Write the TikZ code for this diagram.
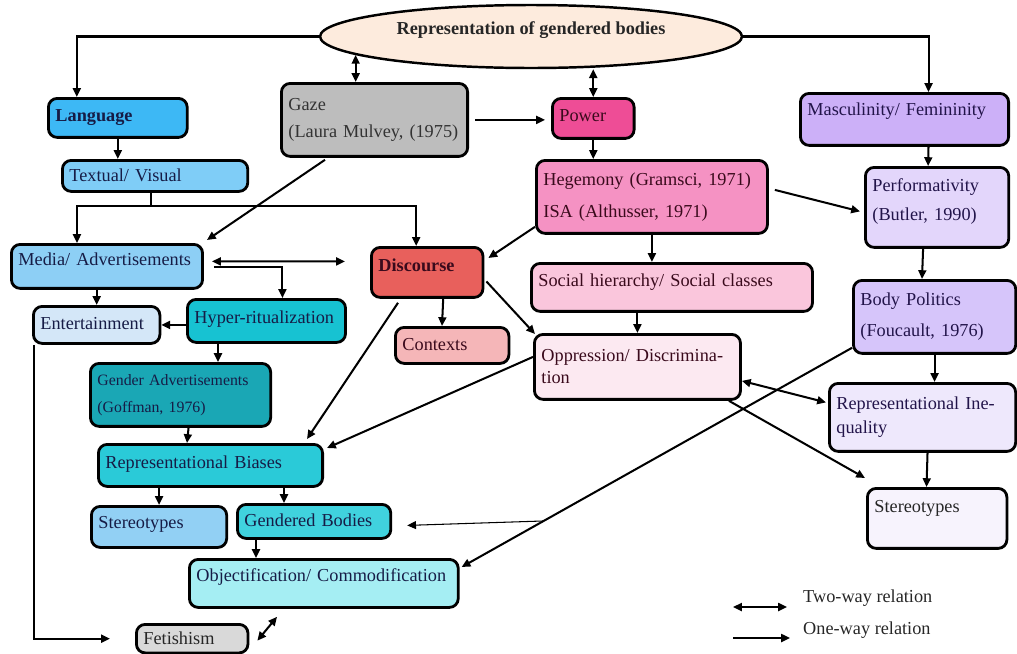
\documentclass[tikz,border=0pt]{standalone}
\usepackage{fontspec}
\setmainfont{Liberation Serif}
\newcommand{\boxfont}{\fontsize{10.4}{12.5}\selectfont}
\newcommand{\smallboxfont}{\fontsize{9}{11}\selectfont}
\usetikzlibrary{arrows.meta,positioning,shapes.geometric,calc}

\definecolor{navytxt}{HTML}{161C46}
\definecolor{maroontxt}{HTML}{3A0A1C}
\definecolor{violettxt}{HTML}{22144A}
\definecolor{repfill}{HTML}{FDEBDD}
\definecolor{langfill}{HTML}{3DB8F5}
\definecolor{textualfill}{HTML}{7FCDF7}
\definecolor{mediafill}{HTML}{8DCFF5}
\definecolor{entfill}{HTML}{D4E7F8}
\definecolor{hyperfill}{HTML}{17C2D2}
\definecolor{gafill}{HTML}{1AA7B5}
\definecolor{rbfill}{HTML}{2ACAD8}
\definecolor{sterfill}{HTML}{92D0F4}
\definecolor{gbfill}{HTML}{40D2DE}
\definecolor{objfill}{HTML}{A5EEF3}
\definecolor{fetfill}{HTML}{D9D9D9}
\definecolor{gazefill}{HTML}{BDBDBD}
\definecolor{powerfill}{HTML}{EE4D96}
\definecolor{hegfill}{HTML}{F592C3}
\definecolor{socfill}{HTML}{FAC6DC}
\definecolor{oppfill}{HTML}{FCE9F1}
\definecolor{discfill}{HTML}{E8605C}
\definecolor{ctxfill}{HTML}{F5B6B8}
\definecolor{mascfill}{HTML}{CCB0F8}
\definecolor{perffill}{HTML}{E3D6FB}
\definecolor{bpfill}{HTML}{D6C5FA}
\definecolor{rifill}{HTML}{EEE8FC}
\definecolor{sterbfill}{HTML}{F7F3FD}

\begin{document}
\begin{tikzpicture}[x=0.02cm,y=-0.02cm,>={Triangle[length=5pt,width=4.5pt]}]
				\tikzset{block/.style={draw,line width=1.6pt,rounded corners=5pt,anchor=north west,align=left,inner xsep=4pt,inner ysep=0pt,font=\boxfont,text=navytxt},
					oneline/.style={text height=7.5pt,text depth=#1},
					oneline/.default=0.7pt,
					link/.style={line width=1.15pt}}
				\useasboundingbox (0,0) rectangle (1017,653);
				% top
				\node [ellipse,draw,line width=1.4pt,fill=repfill,minimum width=8.44cm,minimum height=1.26cm,text depth=10pt,font=\boxfont\bfseries,text=black!85] (rep) at (531,36.5) {Representation of gendered bodies};
				\node [block, oneline=3.5pt, fill=langfill, text width=71pt, minimum height=0.78cm, font=\boxfont\bfseries] (lang) at (47,97) {Language};
				\node [block, fill=gazefill, text width=98pt, minimum height=1.46cm, text=black!80] (gaze) at (280,82) {Gaze\\[3.3pt](Laura Mulvey, (1975)};
				\node [block, oneline=4.1pt, fill=powerfill, text width=38.5pt, minimum height=0.8cm, text=maroontxt] (power) at (551,97) {Power};
				\node [block, oneline=12pt, fill=mascfill, text width=110.5pt, minimum height=1.04cm, text=violettxt] (masc) at (799,92) {Masculinity/ Femininity};
				% second row
				\node [block, oneline=1.3pt, fill=textualfill, text width=97.5pt, minimum height=0.62cm] (textual) at (61,159) {Textual/ Visual};
				\node [block, fill=hegfill, text width=123.5pt, minimum height=1.46cm, text=maroontxt] (heg) at (535,159) {Hegemony (Gramsci, 1971)\\[5.5pt]ISA (Althusser, 1971)};
				\node [block, fill=perffill, text width=73.6pt, minimum height=1.6cm, text height=7.5pt, text depth=26pt, text=violettxt] (perf) at (864,166) {Performativity\\[4.4pt](Butler, 1990)};
				% middle
				\node [block, oneline=8.6pt, fill=mediafill, text width=100.8pt, minimum height=0.88cm] (media) at (10,243) {Media/ Advertisements};
				\node [block, oneline=8.6pt, fill=discfill, text width=55.5pt, minimum height=1cm, font=\boxfont\bfseries, text=maroontxt] (disc) at (370,246) {Discourse};
				\node [block, oneline=8.6pt, fill=socfill, text width=152pt, minimum height=0.96cm, text=maroontxt] (soc) at (530,262) {Social hierarchy/ Social classes};
				\node [block, fill=bpfill, text width=84.4pt, minimum height=1.46cm, text=violettxt] (bp) at (852,279) {Body Politics\\[5pt](Foucault, 1976)};
				\node [block, oneline=2.4pt, fill=entfill, text width=64pt, minimum height=0.74cm] (ent) at (32,305) {Entertainment};
				\node [block, oneline=4.7pt, fill=hyperfill, text width=82pt, minimum height=0.86cm] (hyper) at (186,298) {Hyper-ritualization};
				\node [block, oneline=1.8pt, fill=ctxfill, text width=56.6pt, minimum height=0.72cm, text=maroontxt] (ctx) at (394,326) {Contexts};
				\node [block, fill=oppfill, text width=109.3pt, minimum height=1.3cm, text=maroontxt] (opp) at (533,333) {Oppression/ Discrimina-\\tion};
				\node [block, fill=gafill, text width=94.6pt, minimum height=1.26cm, font=\smallboxfont] (ga) at (89,362) {Gender Advertisements\\[4.3pt](Goffman, 1976)};
				\node [block, fill=rifill, text width=98pt, minimum height=1.36cm, text=violettxt] (ri) at (828,382) {Representational Ine-\\[1pt]quality};
				% bottom
				\node [block, oneline=4.1pt, fill=rbfill, text width=119.6pt, minimum height=0.84cm] (rb) at (97,443) {Representational Biases};
				\node [block, oneline=5.8pt, fill=sterfill, text width=69pt, minimum height=0.82cm] (ster1) at (90,505) {Stereotypes};
				\node [block, oneline=1.8pt, fill=gbfill, text width=79.3pt, minimum height=0.68cm] (gb) at (236,503) {Gendered Bodies};
				\node [block, oneline=14.3pt, fill=sterbfill, text width=71.4pt, minimum height=1.2cm, text=black!85] (ster2) at (866,487) {Stereotypes};
				\node [block, oneline=9.8pt, fill=objfill, text width=145pt, minimum height=0.96cm] (obj) at (188,558) {Objectification/ Commodification};
				\node [block, oneline, fill=fetfill, text width=55.5pt, minimum height=0.57cm, text=black!85] (fet) at (135,623) {Fetishism};
				% legend
				\node [anchor=west, font=\boxfont, text=black!85] (two) at (797,598) {Two-way relation};
				\node [anchor=west, font=\boxfont, text=black!85] (one) at (797,630) {One-way relation};
				\coordinate (twoa) at (733,607);
				\coordinate (twob) at (787,607);
				\coordinate (onea) at (733,638);
				\coordinate (oneb) at (790,638);
				% connectors
				\draw[->,link] (rep.west) -| ($(lang.north)+(-41,0)$);
				\draw[<->,link] (rep.186) -- (rep.186 |- gaze.north);
				\draw[<->,link] (rep.south -| power) -- (power.north);
				\draw[->,link] (rep.east) -| ($(masc.north)+(24,0)$);
				\draw[->,link] (lang.south) -- (lang.south |- textual.north);
				\coordinate (split) at ($(textual.south)+(-4,13)$);
				\draw[link] (textual.south -| split) -- (split);
				\draw[->,link] (split) -| ($(media.north)+(-30,0)$);
				\draw[->,link] (split) -| ($(disc.north)+(-11,0)$);
				\draw[->,link] ($(gaze.south west)+(45,2)$) -- ($(media.north east)+(3,-3)$);
				\draw[->,link,shorten <=3.4pt,shorten >=3.4pt] (gaze.east) -- (gaze.east -| power.west);
				\draw[->,link] (power.south) -- (power.south |- heg.north);
				\draw[->,link] ($(masc.south)+(24,0)$) -- ($(perf.north)+(-9,0)$);
				\draw[->,link] ($(heg.east)+(6,-7)$) -- ($(perf.west)+(-4,4)$);
				\draw[->,link] (heg.south) -- (heg.south |- soc.north);
				\draw[->,link] ($(heg.south west)+(0,-8)$) -- ($(disc.north east)+(4,12)$);
				\draw[<->,link] ($(media.east)+(8,-5)$) -- ($(disc.west)+(-25,-11)$);
				\draw[->,link] ($(media.east)+(10,1)$) -| ($(hyper.north)+(16,0)$);
				\draw[->,link] (ent.north |- media.south) -- (ent.north);
				\draw[->,link] (hyper.west |- ent.east) -- (ent.east);
				\draw[->,link] ($(hyper.south west)+(32,0)$) -- ($(ga.north west)+(129,0)$);
				\draw[->,link] ($(ent.south west)+(2,0)$) |- ($(fet.west)+(-25,0)$);
				\draw[->,link] ($(ga.south)+(8,0)$) -- ($(rb.north west)+(90,0)$);
				\draw[->,link] ($(disc.south)+(16,0)$) -- ($(ctx.north west)+(48,0)$);
				\draw[->,link] ($(disc.east)+(2,9)$) -- ($(opp.north west)+(2,1)$);
				\draw[->,link] ($(disc.south west)+(28,4)$) -- ($(rb.north east)+(-17,-4)$);
				\draw[->,link] (opp.north |- soc.south) -- (opp.north);
				\draw[->,link] ($(opp.west)+(0,-10)$) -- ($(rb.north east)+(3,5)$);
				\draw[<->,link] ($(opp.east)+(0,14)$) -- ($(ri.west)+(-2,-15)$);
				\draw[->,link] ($(opp.south east)+(-13,0)$) -- ($(ster2.north west)+(-1,-9)$);
				\draw[->,link] ($(perf.south)+(-14,0)$) -- ($(bp.north west)+(70,0)$);
				\draw[->,link] (bp.south) -- (bp.south |- ri.north);
				\draw[->,link] ($(ri.south)+(5,0)$) -- ($(ster2.north west)+(60.5,0)$);
				\draw[->,link] ($(bp.south west)+(0,-7)$) -- coordinate[pos=0.79] (branch) ($(obj.north east)+(2,9)$);
				\draw[->,line width=0.6pt] (branch) -- ($(gb.east)+(15,4)$);
				\draw[->,link] (ster1.north |- rb.south) -- (ster1.north);
				\draw[->,link] ($(rb.south west)+(187,0)$) -- ($(gb.north west)+(48,0)$);
				\draw[->,link] ($(gb.south west)+(20,0)$) -- ($(obj.north west)+(68,0)$);
				\draw[<->,link] ($(obj.south west)+(89,8)$) -- ($(fet.east)+(8,2)$);
				\draw[<->,link] (twoa) -- (twob);
				\draw[->,link] (onea) -- (oneb);
			\end{tikzpicture}
\end{document}
